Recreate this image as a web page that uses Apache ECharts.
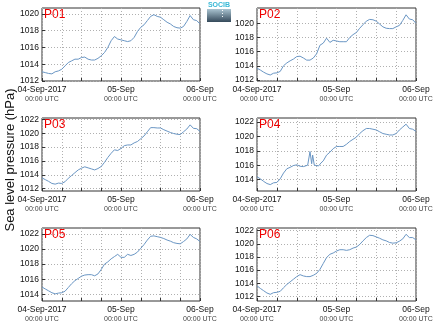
<!DOCTYPE html>
<html><head><meta charset="utf-8">
<script src="https://cdn.jsdelivr.net/npm/echarts@6/dist/echarts.min.js"></script>
<style>html,body{margin:0;padding:0;background:#fff}#c{width:434px;height:327px}</style>
</head><body><div id="c"></div>
<script>
// ---- data ----
const panelNames = ['P01','P02','P03','P04','P05','P06'];
const hourly = [0,1,2,3,4,5,6,7,8,9,10,11,12,13,14,15,16,17,18,19,20,21,22,23,24,25,26,27,28,29,30,31,32,33,34,35,36,37,38,39,40,41,42,43,44,45,46,47,48];
const p01 = [1013.1,1013.0,1012.9,1012.85,1013.1,1013.2,1013.4,1013.8,1014.2,1014.4,1014.6,1014.6,1014.8,1014.85,1014.6,1014.5,1014.5,1014.7,1015.0,1015.4,1016.0,1016.8,1017.3,1017.0,1016.9,1016.8,1016.7,1016.8,1017.2,1017.9,1018.4,1018.7,1019.2,1019.7,1019.9,1019.7,1019.6,1019.3,1019.0,1018.8,1018.5,1018.35,1018.3,1018.5,1019.1,1019.8,1019.3,1019.2,1018.8];
const p02 = [1013.65,1013.4,1013.1,1012.85,1012.7,1012.95,1013.0,1013.2,1014.0,1014.4,1014.7,1014.95,1015.3,1015.35,1015.1,1014.8,1014.8,1015.1,1015.7,1016.9,1017.2,1017.9,1017.3,1017.6,1017.5,1017.4,1017.4,1017.4,1018.0,1018.4,1018.7,1019.3,1019.8,1020.3,1020.55,1020.5,1020.3,1019.9,1019.5,1019.3,1019.25,1019.25,1019.5,1019.7,1020.4,1021.2,1020.6,1020.5,1020.0];
const p03 = [1013.55,1013.3,1013.05,1012.75,1012.65,1012.8,1012.75,1013.0,1013.5,1013.9,1014.3,1014.7,1014.95,1015.15,1015.0,1014.85,1014.7,1014.9,1015.2,1015.8,1016.5,1017.1,1017.6,1017.5,1017.8,1018.2,1018.3,1018.3,1018.6,1018.8,1019.2,1019.6,1020.2,1020.8,1020.8,1020.75,1020.75,1020.5,1020.3,1020.1,1019.95,1019.85,1019.8,1020.2,1020.6,1021.2,1020.7,1020.65,1020.25];
const p04Hours = [0,1,2,3,4,5,6,7,8,9,10,11,12,13,14,14.6,15.3,16.0,16.5,16.8,17.3,17.8,18.6,19.3,20,21,22,23,24,25,26,27,28,29,30,31,32,33,34,35,36,37,38,39,40,41,42,43,44,45,46,47,48];
const p04 = [1014.4,1014.1,1013.75,1013.45,1013.3,1013.55,1013.6,1014.1,1014.9,1015.5,1015.7,1015.95,1016.05,1015.85,1015.8,1015.55,1016.0,1017.9,1016.2,1017.4,1016.0,1015.8,1015.9,1016.3,1016.6,1017.4,1017.8,1018.3,1018.6,1018.6,1018.6,1018.9,1019.3,1019.6,1019.9,1020.4,1020.8,1021.1,1021.1,1021.0,1020.9,1020.65,1020.4,1020.3,1020.2,1020.2,1020.4,1020.9,1021.3,1021.7,1021.1,1021.0,1020.7];
const p05 = [1014.95,1014.7,1014.45,1014.2,1014.05,1014.15,1014.2,1014.4,1014.9,1015.4,1015.8,1016.1,1016.4,1016.55,1016.6,1016.6,1016.45,1016.7,1017.3,1018.0,1018.3,1018.7,1019.0,1019.3,1018.9,1018.9,1019.3,1019.15,1019.3,1019.6,1020.1,1020.6,1021.2,1021.7,1021.75,1021.65,1021.55,1021.4,1021.2,1021.05,1020.85,1020.75,1020.7,1021.0,1021.35,1021.95,1021.55,1021.35,1021.0];
const p06 = [1013.6,1013.2,1012.85,1012.5,1012.3,1012.55,1012.6,1012.75,1013.3,1013.8,1014.2,1014.6,1015.0,1015.3,1015.1,1015.0,1015.0,1015.2,1015.5,1016.1,1017.0,1017.9,1018.4,1018.6,1018.9,1019.1,1019.1,1019.0,1019.1,1019.35,1019.5,1019.9,1020.45,1020.95,1021.3,1021.25,1021.05,1020.85,1020.6,1020.45,1020.2,1020.1,1020.15,1020.4,1020.75,1021.45,1020.95,1020.95,1020.6];
const yMin = [1012, 1011.85, 1011.66, 1012.41, 1013.1, 1011.28];
const yMax = [1020.7, 1022.16, 1022.19, 1022.56, 1022.8, 1022.41];
const yTicks = [
  [1012,1014,1016,1018,1020],
  [1012,1014,1016,1018,1020],
  [1012,1014,1016,1018,1020,1022],
  [1014,1016,1018,1020,1022],
  [1014,1016,1018,1020,1022],
  [1012,1014,1016,1018,1020,1022]
];
const xTickHours = [0,24,48];
const xTickDates = ['04-Sep-2017','05-Sep','06-Sep'];
const xTickTime = '00:00 UTC';
const yTitle = 'Sea level pressure (hPa)';
const logoText = 'SOCIB';

// ---- chart ----
const font = "'Liberation Sans', Arial, Helvetica, sans-serif";
const seriesValues = [p01,p02,p03,p04,p05,p06];
const seriesHours = [hourly,hourly,hourly,p04Hours,hourly,hourly];
const grids=[], xAxes=[], yAxes=[], series=[], graphics=[];
for (let i=0;i<6;i++){
  const col=i%2, row=Math.floor(i/2);
  const left = col ? 257 : 42, width = col ? 159 : 158, top=[8,118,228][row];
  grids.push({left, top, width, height:73, show:true, borderColor:'#333', borderWidth:1,
    backgroundColor:'transparent', containLabel:false, outerBoundsMode:'none'});
  xAxes.push({type:'value', gridIndex:i, min:0, max:48, interval:6,
    axisLine:{show:false},
    axisTick:{show:true, inside:true, length:3, lineStyle:{color:'#333'}},
    axisLabel:{customValues:xTickHours, margin:4, hideOverlap:false,
      formatter:(v)=>{const k=xTickHours.indexOf(v); return k<0?'':'{a|'+xTickDates[k]+'}\n{b|'+xTickTime+'}';},
      rich:{a:{fontSize:8.5,lineHeight:10,color:'#111',fontFamily:font},
            b:{fontSize:7,lineHeight:8,color:'#444',fontFamily:font}}},
    splitLine:{show:true, lineStyle:{color:'#b0b0b0', type:[1,2], width:1}}});
  yAxes.push({type:'value', gridIndex:i, min:yMin[i], max:yMax[i],
    axisLine:{show:false},
    axisTick:{show:true, inside:true, length:3, customValues:yTicks[i], lineStyle:{color:'#333'}},
    axisLabel:{customValues:yTicks[i], margin:3, fontSize:8.5, color:'#111', fontFamily:font, hideOverlap:false,
      formatter:(v)=>String(v)},
    splitLine:{show:true, lineStyle:{color:'#b0b0b0', type:[1,2], width:1}}});
  series.push({type:'line', xAxisIndex:i, yAxisIndex:i, showSymbol:false, symbol:'none',
    lineStyle:{color:'#6a96c4', width:1}, animation:false,
    data: seriesHours[i].map((h,j)=>[h, seriesValues[i][j]])});
  graphics.push({type:'text', left:left+2, top:top+1, z:10,
    style:{text:panelNames[i], fontSize:12, fill:'#ee0000', fontFamily:font}});
}
graphics.push({type:'text', x:10, y:160, rotation:Math.PI/2,
  style:{text:yTitle, fontSize:13, fill:'#111', fontFamily:font, align:'center', verticalAlign:'middle'}});
graphics.push({type:'rect', shape:{x:207, y:9, width:24, height:13},
  style:{fill:new echarts.graphic.LinearGradient(0,0,0,1,[{offset:0,color:'#a9c3d0'},{offset:1,color:'#34495a'}])}});
graphics.push({type:'text', x:219, y:5, style:{text:logoText, fontSize:7, fill:'#38b8d6', fontFamily:font, align:'center', verticalAlign:'middle', fontWeight:'bold'}});
graphics.push({type:'text', x:222, y:15, style:{text:'⋮', fontSize:9, fill:'#ffffff', fontFamily:font, align:'center', verticalAlign:'middle'}});

const chart = echarts.init(document.getElementById('c'), null, {renderer:'canvas'});
chart.setOption({animation:false, backgroundColor:'#fff', grid:grids, xAxis:xAxes, yAxis:yAxes, series, graphic:graphics});
</script></body></html>
